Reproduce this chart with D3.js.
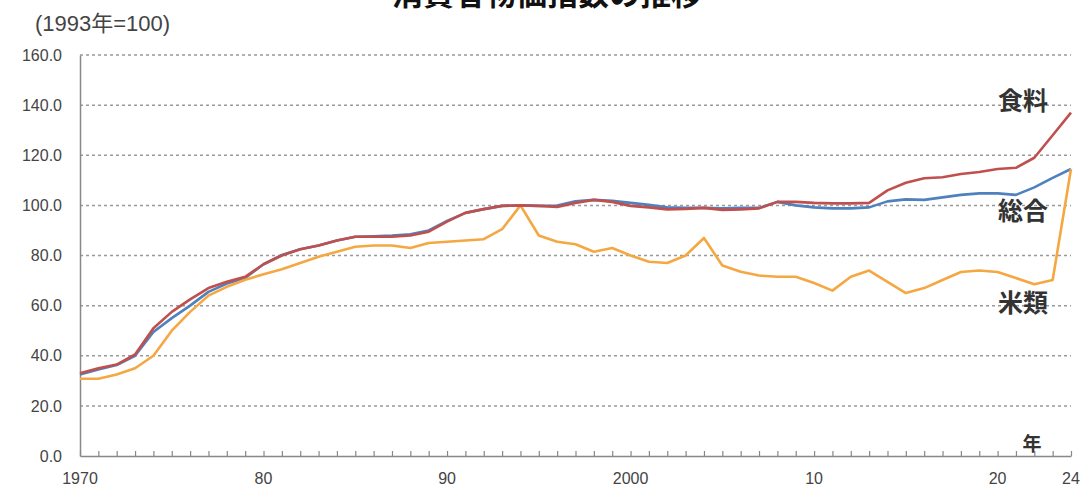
<!DOCTYPE html>
<html>
<head>
<meta charset="utf-8">
<script src="https://cdn.jsdelivr.net/npm/d3@7"></script>
<style>
    body { margin: 0; background: #fff; }
    #chart { width: 1081px; height: 489px; overflow: hidden; }
    text { font-family: "Liberation Sans", "Noto Sans CJK JP", sans-serif; }
</style>
</head>
<body>
<div id="chart"></div>
<script>
/*global d3*/
var years = d3.range(1970, 2025);

// 食料
var food = [33, 35, 36.5, 40.5, 51, 57.5, 62.5, 67, 69.5, 71.5,
    76.5, 80, 82.5, 84, 86, 87.5, 87.5, 87.5, 88, 89.5,
    93.5, 97, 98.5, 99.8, 100, 99.8, 99.4, 101, 102.2, 101.4,
    99.8, 99.2, 98.4, 98.6, 99, 98.2, 98.4, 98.8, 101.4, 101.4,
    101, 100.8, 100.8, 101, 106, 109, 110.8, 111.2, 112.5, 113.3,
    114.5, 115, 119, 128, 137];

// 総合
var general = [32.5, 34.5, 36.3, 40, 49.5, 55, 60, 65.5, 68.8, 71,
    76.5, 80.2, 82.5, 84, 86, 87.5, 87.7, 88, 88.5, 90,
    93.8, 97, 98.5, 99.8, 100, 99.8, 99.9, 101.6, 102.2, 101.8,
    101, 100.2, 99.2, 99, 99, 98.8, 99, 99, 101.4, 100,
    99.2, 98.8, 98.8, 99.2, 101.6, 102.4, 102.2, 103.2, 104.2, 104.8,
    104.8, 104.2, 107.2, 111, 114.5];

// 米類
var rice = [30.8, 30.8, 32.5, 35, 40, 50, 57.5, 64, 67.5, 70.3,
    72.5, 74.5, 77, 79.5, 81.5, 83.5, 84, 84, 83, 85,
    85.5, 86, 86.5, 90.5, 100, 88, 85.5, 84.5, 81.5, 83,
    80, 77.5, 77, 80, 87, 76, 73.5, 72, 71.5, 71.5,
    69, 66, 71.5, 74, 69.5, 65, 67, 70.2, 73.4, 74,
    73.4, 71, 68.5, 70.2, 114.5];

var yTicks = [0, 20, 40, 60, 80, 100, 120, 140, 160];
var xLabelYears = [1970, 1980, 1990, 2000, 2010, 2020, 2024];
var xLabels = ["1970", "80", "90", "2000", "10", "20", "24"];

var seriesNames = ["総合", "米類", "食料"];
var seriesColors = ["#4f81bd", "#f5a742", "#c0504d"];

(function () {
    "use strict";
    var svg, x, y, line, series,
        width = 1081,
        height = 489,
        labelAt = {"食料": 141.5, "総合": 97.5, "米類": 61};

    svg = d3.select("#chart").append("svg")
        .attr("width", width)
        .attr("height", height);

    x = d3.scaleLinear().domain([1970, 2024]).range([80, 1071]);
    y = d3.scaleLinear().domain([0, 160]).range([456, 55]);

    // title (cut off at the top in the original)
    svg.append("text")
        .attr("x", 547)
        .attr("y", 5)
        .attr("text-anchor", "middle")
        .style("font-family", "'Noto Sans CJK JP', sans-serif")
        .style("font-weight", "bold")
        .style("font-size", "31px")
        .attr("fill", "#111")
        .text("消費者物価指数の推移");

    svg.append("text")
        .attr("x", 35)
        .attr("y", 31)
        .style("font-size", "22px")
        .attr("fill", "#444")
        .text("(1993年=100)");

    // grid lines
    svg.append("g").selectAll("line")
        .data(yTicks.filter(function (d) { return d > 0; }))
        .enter().append("line")
        .attr("x1", 80)
        .attr("x2", 1071)
        .attr("y1", function (d) { return y(d); })
        .attr("y2", function (d) { return y(d); })
        .attr("stroke", "#999")
        .attr("stroke-width", 1.5)
        .attr("stroke-dasharray", "3,3");

    // y axis
    svg.append("g")
        .attr("transform", "translate(80,0)")
        .call(d3.axisLeft(y).tickValues(yTicks).tickSize(0).tickPadding(18)
            .tickFormat(d3.format(".1f")))
        .call(function (g) {
            g.select(".domain").attr("stroke", "#888").attr("stroke-width", 1.5);
            g.selectAll("text").style("font-size", "16px").attr("fill", "#444")
                .style("font-family", "'Liberation Sans', sans-serif");
        });

    // x axis ticks
    svg.append("g")
        .attr("transform", "translate(0,456)")
        .call(d3.axisBottom(x).tickValues(years).tickSizeInner(-5).tickSizeOuter(0)
            .tickFormat(""))
        .call(function (g) {
            g.select(".domain").attr("stroke", "#888").attr("stroke-width", 1.5);
            g.selectAll(".tick line").attr("stroke", "#888").attr("stroke-width", 1.2);
        });

    // x axis labels
    svg.append("g").selectAll("text")
        .data(xLabelYears)
        .enter().append("text")
        .attr("x", function (d) { return x(d); })
        .attr("y", 484)
        .attr("text-anchor", "middle")
        .style("font-size", "16px")
        .attr("fill", "#444")
        .text(function (d, i) { return xLabels[i]; });

    svg.append("text")
        .attr("x", 1032)
        .attr("y", 451)
        .attr("text-anchor", "middle")
        .style("font-family", "'Noto Sans CJK JP', sans-serif")
        .style("font-weight", "bold")
        .style("font-size", "19px")
        .attr("fill", "#333")
        .text("年");

    // lines
    line = d3.line()
        .x(function (d) { return x(d.year); })
        .y(function (d) { return y(d.value); });

    series = [general, rice, food].map(function (vals, i) {
        return {
            name: seriesNames[i],
            color: seriesColors[i],
            points: vals.map(function (v, j) {
                return {year: years[j], value: v};
            })
        };
    });

    svg.append("g").selectAll("path")
        .data(series)
        .enter().append("path")
        .attr("d", function (d) { return line(d.points); })
        .attr("fill", "none")
        .attr("stroke", function (d) { return d.color; })
        .attr("stroke-width", 2.6)
        .attr("stroke-linejoin", "round");

    // series labels
    svg.append("g").selectAll("text")
        .data(series)
        .enter().append("text")
        .attr("x", 1023)
        .attr("y", function (d) { return y(labelAt[d.name]); })
        .attr("dy", "0.35em")
        .attr("text-anchor", "middle")
        .style("font-family", "'Noto Sans CJK JP', sans-serif")
        .style("font-weight", "bold")
        .style("font-size", "25px")
        .attr("fill", "#333")
        .text(function (d) { return d.name; });
}());
</script>
</body>
</html>
